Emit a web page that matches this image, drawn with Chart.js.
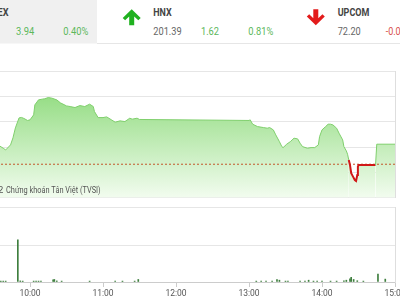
<!DOCTYPE html>
<html><head><meta charset="utf-8">
<script src="https://cdn.jsdelivr.net/npm/chart.js@4/dist/chart.umd.min.js"></script>
<style>
html,body{margin:0;padding:0;background:#fff;}
body{width:400px;height:300px;overflow:hidden;position:relative;font-family:Roboto,sans-serif;}
#hdr{position:absolute;left:0;top:0;}
#price{position:absolute;left:-43px;top:66px;}
#vol{position:absolute;left:-43px;top:202px;}
#wm{position:absolute;left:0;top:180px;}
</style></head><body>
<svg id="hdr" width="400" height="46" font-family="Roboto, sans-serif">
  <rect x="0" y="0" width="97" height="43.5" fill="#f0f0f0"/>
  <line x1="97" y1="43.5" x2="400" y2="43.5" stroke="#e6e6e6" stroke-width="1"/>
  <text x="8.5" y="15.7" text-anchor="end" font-size="10.5" font-weight="bold" fill="#444" textLength="42" lengthAdjust="spacingAndGlyphs">VN-INDEX</text>
  <text x="16" y="35" font-size="11" fill="#5cb85c" textLength="18.3" lengthAdjust="spacingAndGlyphs">3.94</text>
  <text x="63.3" y="35" font-size="11" fill="#5cb85c" textLength="25" lengthAdjust="spacingAndGlyphs">0.40%</text>
  <polygon points="131.7,9.3 140.7,18 138.3,20.3 134.2,16.4 134.2,25.3 129.2,25.3 129.2,16.4 125.1,20.3 122.7,18" fill="#1fb11f"/>
  <text x="153.3" y="15.7" font-size="10.5" font-weight="bold" fill="#444" textLength="18.4" lengthAdjust="spacingAndGlyphs">HNX</text>
  <text x="153.3" y="35" font-size="11" fill="#666" textLength="28.4" lengthAdjust="spacingAndGlyphs">201.39</text>
  <text x="201" y="35" font-size="11" fill="#5cb85c" textLength="18" lengthAdjust="spacingAndGlyphs">1.62</text>
  <text x="248.3" y="35" font-size="11" fill="#5cb85c" textLength="25" lengthAdjust="spacingAndGlyphs">0.81%</text>
  <polygon points="315.8,25.3 324.8,16.6 322.4,14.3 318.3,18.2 318.3,9.3 313.3,9.3 313.3,18.2 309.2,14.3 306.8,16.6" fill="#e31b1b"/>
  <text x="337.7" y="15.7" font-size="10.5" font-weight="bold" fill="#444" textLength="31.6" lengthAdjust="spacingAndGlyphs">UPCOM</text>
  <text x="337.7" y="35" font-size="11" fill="#666" textLength="23" lengthAdjust="spacingAndGlyphs">72.20</text>
  <text x="385.7" y="35" font-size="11" fill="#d9534f" textLength="15" lengthAdjust="spacingAndGlyphs">-0.0</text>
</svg>
<canvas id="price" width="443" height="136"></canvas>
<canvas id="vol" width="443" height="98"></canvas>
<svg id="wm" width="120" height="20" font-family="Roboto, sans-serif">
  <text x="3.3" y="13" text-anchor="end" font-size="9.5" fill="#555">© 2022</text>
  <text x="6" y="13" font-size="9.5" fill="#555" textLength="94.7" lengthAdjust="spacingAndGlyphs">Chứng khoán Tân Việt (TVSI)</text>
</svg>
<script>
const tickLabels = ['09:00','10:00','11:00','12:00','13:00','14:00','15:00'];
const REF_VALUE = 986.63;

const priceTimes = ['09:35','09:38','09:40','09:44','09:46','09:48','09:51','09:53','09:55','09:58',
  '10:00','10:03','10:04','10:07','10:10','10:12','10:15','10:18','10:22','10:25',
  '10:30','10:33','10:37','10:41','10:45','10:49','10:52','10:53','10:56','11:00',
  '11:03','11:07','11:10','11:14','11:18','11:22','11:24','11:28','11:30','13:00',
  '13:01','13:03','13:07','13:12','13:15','13:17','13:20','13:22','13:25','13:27',
  '13:28','13:31','13:34','13:37','13:40','13:42','13:44','13:48','13:51','13:54',
  '13:57','13:58','14:00','14:03','14:05','14:07','14:09','14:12','14:14','14:17',
  '14:18','14:20','14:21','14:22','14:23','14:24','14:25:30','14:27','14:28','14:29',
  '14:29:30','14:30','14:44','14:45','15:00'];
const priceValues = [990.26,989.80,989.46,990.46,991.85,993.83,995.81,995.90,995.70,995.30,
  995.42,996.41,998.39,999.38,999.52,999.60,999.84,999.72,999.38,998.79,
  998.19,998.06,997.86,998.25,998.06,998.53,998.06,997.06,995.87,995.87,
  996.01,995.42,994.96,995.22,995.08,995.75,995.56,995.75,995.50,995.30,
  995.42,994.56,994.09,993.89,993.77,993.89,993.43,992.44,991.11,990.12,
  989.92,990.60,991.11,991.79,991.65,990.79,990.12,989.80,989.92,989.92,
  990.46,992.10,993.43,994.09,994.56,994.56,994.42,993.77,992.78,991.45,
  990.12,989.27,988.61,987.48,986.49,984.84,984.17,983.51,983.31,984.50,
  986.15,986.49,986.49,990.60,990.60];

const volTimes = ['09:36','09:38','09:40','09:50','09:52','09:54','10:03','10:05','10:07','10:09',
  '10:19','10:20','10:22','10:26','10:49','11:10','11:16','11:26','11:29','13:06',
  '13:10','13:14','13:19','13:23','13:25','13:30','13:32','13:42','13:46','13:49',
  '13:53','13:56','14:00','14:07','14:12','14:18','14:20','14:23','14:24','14:26',
  '14:29','14:34','14:46','14:52'];
const volValues = [0.025,0.025,0.025,1.17,0.03,0.025,0.025,0.025,0.025,0.025,
  0.06,0.07,0.03,0.025,0.025,0.025,0.025,0.025,0.07,0.025,
  0.025,0.025,0.025,0.07,0.05,0.025,0.025,0.025,0.025,0.05,
  0.025,0.025,0.025,0.025,0.025,0.035,0.05,0.09,0.13,0.07,
  0.035,0.025,0.22,0.08];

function toMin(s){const p=s.split(':').map(Number);return p[0]*60+p[1]+(p[2]||0)/60;}
const T0 = toMin(tickLabels[0]), T1 = toMin(tickLabels[tickLabels.length-1]);
const tickFont = {family:"'Liberation Sans Narrow', Roboto, sans-serif", size:8.5};

new Chart(document.getElementById('price'), {
  type:'line',
  data:{datasets:[
    {data: priceTimes.map((t,i)=>({x:toMin(t), y:priceValues[i]})),
     borderColor:'#7fcf6c', borderWidth:1, pointRadius:0, tension:0, fill:'start',
     backgroundColor: ctx => {
       const a = ctx.chart.chartArea; if(!a) return 'rgba(140,220,120,0.6)';
       const g = ctx.chart.ctx.createLinearGradient(0,a.top,0,a.bottom);
       g.addColorStop(0,'rgb(128,214,108)');
       g.addColorStop(1,'rgb(242,252,239)');
       return g;
     },
     segment:{
       borderColor: c => c.p1.parsed.y < REF_VALUE ? '#d01818' : undefined,
       borderWidth: c => c.p1.parsed.y < REF_VALUE ? 2 : undefined
     }},
    {data:[{x:T0,y:REF_VALUE},{x:T1,y:REF_VALUE}], borderColor:'#c2572b', borderWidth:1,
     borderDash:[2,2], pointRadius:0, fill:false}
  ]},
  options:{responsive:false, animation:false, events:[],
    layout:{padding:{top:5.5,bottom:4.3,left:0,right:5}},
    plugins:{legend:{display:false}, tooltip:{enabled:false}, filler:{drawTime:'beforeDatasetsDraw'}},
    scales:{
      x:{type:'linear', min:T0, max:T1, display:false, offset:false},
      y:{position:'right', min:980, max:1005, ticks:{display:false, stepSize:5},
         grid:{color:'#e6e6e6', drawTicks:false}, border:{display:true, color:'#dedede'},
         afterFit:s=>{s.width=0;}}
    }}
});

new Chart(document.getElementById('vol'), {
  type:'bar',
  data:{datasets:[{data: volTimes.map((t,i)=>({x:toMin(t), y:volValues[i]})),
    backgroundColor:'#3f7f3f', barThickness:1, borderWidth:0}]},
  options:{responsive:false, animation:false, events:[],
    layout:{padding:{top:5,bottom:0,left:0,right:5}},
    plugins:{legend:{display:false}, tooltip:{enabled:false}},
    scales:{
      x:{type:'linear', min:T0, max:T1, offset:false,
         grid:{offset:false, drawOnChartArea:false, drawTicks:true, tickLength:5, color:'#cccccc'},
         border:{display:true, color:'#cccccc'},
         ticks:{stepSize:60, autoSkip:false, maxRotation:0, padding:2, color:'#555', font:tickFont,
                callback: v => tickLabels[Math.round((v-T0)/60)]},
         afterFit: s => {s.height=18; s.paddingLeft=0; s.paddingRight=0;}},
      y:{position:'right', min:0, max:2.08,
         afterBuildTicks: s => { s.ticks=[{value:0},{value:1},{value:2.08}]; },
         ticks:{display:false}, grid:{color:'#e6e6e6', drawTicks:false},
         border:{display:true, color:'#dedede'}, afterFit:s=>{s.width=0;}}
    }}
});
</script>
</body></html>
